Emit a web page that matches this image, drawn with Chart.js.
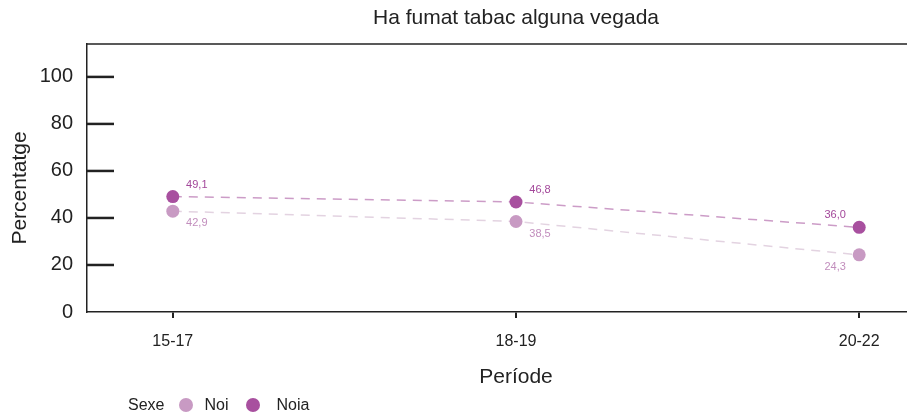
<!DOCTYPE html>
<html>
<head>
<meta charset="utf-8">
<script src="https://cdn.jsdelivr.net/npm/chart.js@4/dist/chart.umd.min.js"></script>
<style>
  html, body { margin: 0; padding: 0; background: #fff; overflow: hidden; }
  #wrap { position: relative; width: 1032px; height: 414px; }
  #legend { position: absolute; left: 128px; top: 396px; font: 16px "Liberation Sans", Arial, sans-serif; color: #222; display: flex; align-items: center; }
  #legend .dot { display: inline-block; width: 14px; height: 14px; border-radius: 50%; margin: 0 11px 0 15px; }
</style>
</head>
<body>
<div id="wrap">
  <canvas id="chart" width="1032" height="414"></canvas>
  <div id="legend">
    <span>Sexe</span>
    <span class="dot" style="background:#c89ac3"></span><span>Noi</span>
    <span class="dot" style="background:#a8509f; margin-left:18px; margin-right:16px"></span><span>Noia</span>
  </div>
</div>
<script>
var categories = ["15-17", "18-19", "20-22"];
var noi = [42.9, 38.5, 24.3];
var noia = [49.1, 46.8, 36.0];
var yTicks = [0, 20, 40, 60, 80, 100];

var colNoi = "#c89ac3";
var colNoia = "#a8509f";
var font = "'Liberation Sans', Arial, sans-serif";

function pts(arr) {
  return arr.map(function (v, i) { return { x: i, y: v }; });
}

// frame, inner y ticks, point labels, titles
var extras = {
  id: "extras",
  afterDraw: function (chart) {
    var c = chart.ctx, a = chart.chartArea, y = chart.scales.y;
    c.save();
    c.strokeStyle = "#222";
    c.lineWidth = 1.5;
    c.beginPath();
    c.moveTo(a.left, a.top);
    c.lineTo(a.right, a.top);
    c.stroke();
    c.lineWidth = 2.5;
    yTicks.forEach(function (v) {
      var py = y.getPixelForValue(v);
      if (v === 0) return;
      c.beginPath();
      c.moveTo(a.left, py);
      c.lineTo(a.left + 27, py);
      c.stroke();
    });
    c.fillStyle = "#222";
    c.textAlign = "center";
    c.textBaseline = "middle";
    c.font = "21px " + font;
    c.fillText("Ha fumat tabac alguna vegada", (a.left + a.right) / 2, 18);

    c.save();
    c.translate(20, 188);
    c.rotate(-Math.PI / 2);
    c.font = "21px " + font;
    c.fillText("Percentatge", 0, 0);
    c.restore();

    c.font = "11px " + font;
    chart.data.datasets.forEach(function (ds, di) {
      var meta = chart.getDatasetMeta(di);
      meta.data.forEach(function (p, i) {
        var last = i === categories.length - 1;
        var dx = last ? -24 : 24;
        var dy = ds.above ? -12 : 12;
        c.fillStyle = ds.labelColor;
        c.fillText(ds.data[i].y.toFixed(1).replace(".", ","), p.x + dx, p.y + dy);
      });
    });
    c.restore();
  }
};

new Chart(document.getElementById("chart"), {
  type: "line",
  data: {
    datasets: [
      {
        label: "Noi",
        data: pts(noi),
        borderColor: "#e3d3e1",
        borderDash: [9, 7],
        borderWidth: 1.5,
        pointRadius: 6.5,
        pointHoverRadius: 6.5,
        pointBackgroundColor: colNoi,
        pointBorderWidth: 0,
        labelColor: "#c28ebd",
        above: false
      },
      {
        label: "Noia",
        data: pts(noia),
        borderColor: "#cc9cc7",
        borderDash: [9, 7],
        borderWidth: 1.5,
        pointRadius: 6.5,
        pointHoverRadius: 6.5,
        pointBackgroundColor: colNoia,
        pointBorderWidth: 0,
        labelColor: "#a3479a",
        above: true
      }
    ]
  },
  options: {
    responsive: false,
    animation: false,
    layout: { padding: { top: 44, right: 87, bottom: 22, left: 0 } },
    plugins: { legend: { display: false }, tooltip: { enabled: false } },
    scales: {
      x: {
        type: "linear",
        min: -0.25,
        max: 2.25,
        afterBuildTicks: function (s) { s.ticks = categories.map(function (c, i) { return { value: i }; }); },
        afterFit: function (s) { s.height = 80; },
        ticks: {
          callback: function (v) { return categories[v]; },
          font: { family: font, size: 16 },
          color: "#222",
          padding: 14,
          maxRotation: 0
        },
        grid: { drawOnChartArea: false, drawTicks: true, tickLength: 6, color: "#222", lineWidth: 2 },
        border: { display: true, color: "#222", width: 1.5 },
        title: { display: true, text: "Període", font: { family: font, size: 21 }, color: "#222", padding: { top: 0, bottom: 2 } }
      },
      y: {
        min: 0,
        max: 114,
        afterBuildTicks: function (s) { s.ticks = yTicks.map(function (v) { return { value: v }; }); },
        afterFit: function (s) { s.width = 87; },
        ticks: { font: { family: font, size: 20 }, color: "#222", padding: 14 },
        grid: { display: true, drawOnChartArea: false, drawTicks: false },
        border: { display: true, color: "#222", width: 1.5 }
      }
    }
  },
  plugins: [extras]
});
</script>
</body>
</html>
